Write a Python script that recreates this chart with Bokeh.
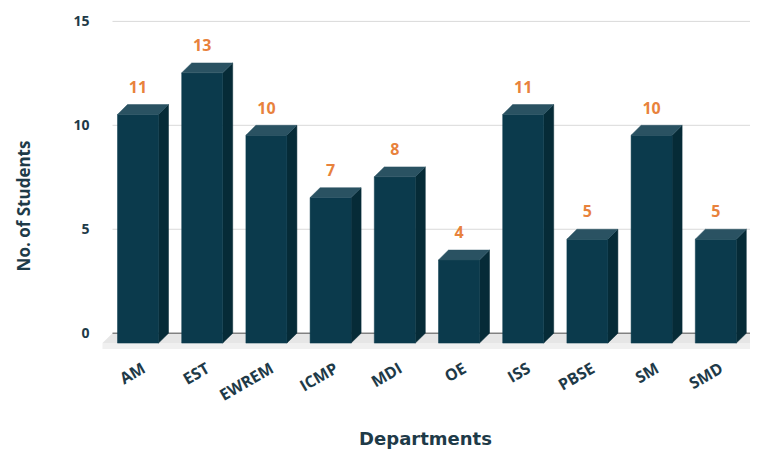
import math
from bokeh.plotting import figure
from bokeh.models import Range1d, FixedTicker
from bokeh.embed import file_html
from bokeh.resources import INLINE
from bokeh.core.properties import value

# ---- data ----
departments = ["AM", "EST", "EWREM", "ICMP", "MDI", "OE", "ISS", "PBSE", "SM", "SMD"]
students = [11, 13, 10, 7, 8, 4, 11, 5, 10, 5]
y_ticks = [0, 5, 10, 15]

# ---- layout (pixels) ----
PAD_L = 9
W, H = 750 - PAD_L, 451
ML, MR, MT, MB = 91, 0, 10, 46
frame_w = W - ML - MR
frame_h = H - MT - MB
px_per_cat = 64.2          # category spacing
first_center_px = 37.5     # first bar front centre, from frame left
zero_px = 326              # value 0 on back wall, from frame top
px_per_unit = 21.0
depth_px = 10.0            # 3D depth offset
half_w = 20.5 / px_per_cat
wall_left_px = 12

x_start = -first_center_px / px_per_cat
x_end = x_start + frame_w / px_per_cat
y_end = zero_px / px_per_unit
y_start = y_end - frame_h / px_per_unit
dx = depth_px / px_per_cat
dy = depth_px / px_per_unit
wall_left = x_start + wall_left_px / px_per_cat
slab = 16.0 / px_per_unit

TEXT = "#1e3a48"
FRONT = "#0b3a4c"
TOP = "#2a5262"
SIDE = "#062b37"
ORANGE = "#e8823c"

p = figure(width=W, height=H, x_range=Range1d(x_start, x_end), y_range=Range1d(y_start, y_end),
           output_backend="svg", toolbar_location=None, margin=(0, 0, 0, PAD_L),
           min_border_left=ML, min_border_right=MR, min_border_top=MT, min_border_bottom=MB)
p.outline_line_color = None
p.xgrid.visible = False
p.ygrid.visible = False

# y axis
p.yaxis.ticker = FixedTicker(ticks=y_ticks)
p.yaxis.axis_line_color = None
p.yaxis.major_tick_line_color = None
p.yaxis.minor_tick_line_color = None
p.yaxis.major_label_standoff = 5
p.yaxis.major_label_text_font = "Open Sans"
p.yaxis.major_label_text_font_style = "bold"
p.yaxis.major_label_text_font_size = "14px"
p.yaxis.major_label_text_color = TEXT
p.yaxis.axis_label = "No. of Students"
p.yaxis.axis_label_text_font = "Open Sans"
p.yaxis.axis_label_text_font_style = "bold"
p.yaxis.axis_label_text_font_size = "17px"
p.yaxis.axis_label_text_color = TEXT
p.yaxis.axis_label_standoff = 35

# x axis (only title)
p.xaxis.ticker = FixedTicker(ticks=[])
p.xaxis.axis_line_color = None
p.xaxis.major_tick_line_color = None
p.xaxis.minor_tick_line_color = None
p.xaxis.axis_label = "Departments"
p.xaxis.axis_label_text_font = "DejaVu Sans"
p.xaxis.axis_label_text_font_style = "bold"
p.xaxis.axis_label_text_font_size = "18px"
p.xaxis.axis_label_text_color = TEXT
p.xaxis.axis_label_standoff = 26

# back wall gridlines
n = len(y_ticks)
p.segment(x0=[wall_left] * n, y0=y_ticks, x1=[x_end + 1] * n, y1=y_ticks,
          line_color="#d9d9d9", line_width=1)

# floor
fr = x_end + 1
p.patch([wall_left, fr, fr - dx, wall_left - dx], [0, 0, -dy, -dy],
        fill_color="#e6e6e6", line_color=None)
p.patch([wall_left - dx, fr, fr, wall_left - dx], [-dy, -dy, -slab, -slab],
        fill_color="#f0f0f0", line_color=None)
p.segment(x0=[wall_left], y0=[0], x1=[fr], y1=[0], line_color="#555555", line_width=1)

# bars
xs = list(range(len(departments)))
side_xs, side_ys, top_xs, top_ys = [], [], [], []
for i, v in zip(xs, students):
    r = i + half_w
    l = i - half_w
    side_xs.append([r, r + dx, r + dx, r])
    side_ys.append([-dy, 0, v, v - dy])
    top_xs.append([l, r, r + dx, l + dx])
    top_ys.append([v - dy, v - dy, v, v])
p.patches(side_xs, side_ys, fill_color=SIDE, line_color=SIDE, line_width=0.5)
p.quad(left=[i - half_w for i in xs], right=[i + half_w for i in xs],
       bottom=[-dy] * len(xs), top=[v - dy for v in students],
       fill_color=FRONT, line_color=FRONT, line_width=0.5)
p.patches(top_xs, top_ys, fill_color=TOP, line_color=TOP, line_width=0.5)

# value labels
label_gap = 18.0 / px_per_unit
p.text(x=xs, y=[v + label_gap for v in students], text=[str(v) for v in students],
       text_align="center", text_baseline="middle", text_color=ORANGE,
       text_font=value("Open Sans"), text_font_style="bold", text_font_size="16px")

# category labels
cat_dx = 0.0
cat_y = (zero_px - (360 - 10)) / px_per_unit
p.text(x=[i + cat_dx for i in xs], y=[cat_y] * len(xs), text=departments,
       angle=math.pi / 6, text_align="right", text_baseline="top", text_color=TEXT,
       text_font=value("Open Sans"), text_font_style="bold", text_font_size="16px")

open("out.html", "w").write(file_html(p, INLINE))
